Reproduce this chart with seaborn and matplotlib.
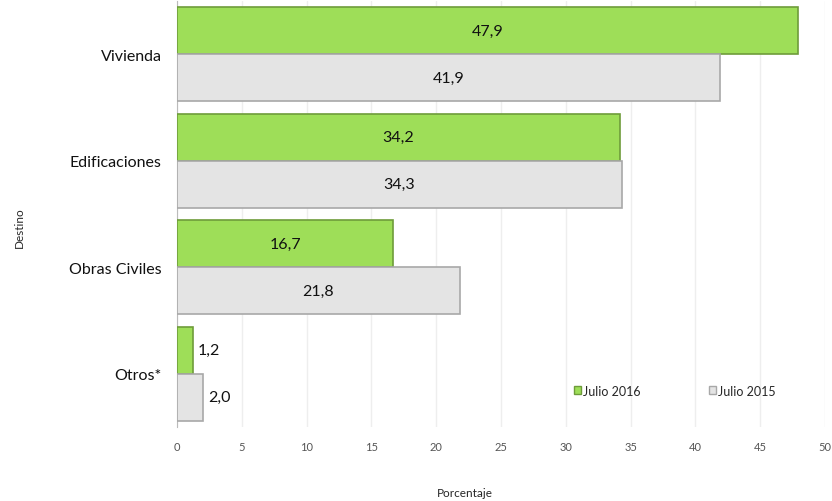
import matplotlib
matplotlib.use('Agg')
import matplotlib.pyplot as plt
import seaborn as sns
import pandas as pd
import numpy as np
from matplotlib.patches import Patch

# Data
destinos = ['Vivienda', 'Edificaciones', 'Obras Civiles', 'Otros*']
julio_2016 = [47.9, 34.2, 16.7, 1.2]
julio_2015 = [41.9, 34.3, 21.8, 2.0]
series = ['Julio 2016', 'Julio 2015']
x_ticks = [0, 5, 10, 15, 20, 25, 30, 35, 40, 45, 50]

df = pd.DataFrame({
    'Destino': destinos * 2,
    'Porcentaje': julio_2016 + julio_2015,
    'Serie': [series[0]] * len(destinos) + [series[1]] * len(destinos),
})

sns.set_style('white')
plt.rcParams['font.family'] = ['Lato', 'DejaVu Sans']

fig = plt.figure(figsize=(8.32, 5.02), dpi=100)
ax = fig.add_axes([0.2127, 0.1474, 0.7789, 0.8486])

palette = {'Julio 2016': '#9ede58', 'Julio 2015': '#e4e4e4'}
edges = {'Julio 2016': '#6e9c3a', 'Julio 2015': '#a8a8a8'}

sns.barplot(data=df, y='Destino', x='Porcentaje', hue='Serie', order=destinos,
            hue_order=series, palette=palette, saturation=1, orient='h', width=0.88,
            ax=ax, zorder=3, legend=False)

for container, name in zip(ax.containers, series):
    for patch in container:
        patch.set_edgecolor(edges[name])
        patch.set_linewidth(1.2)
    labels = [f'{v:.1f}'.replace('.', ',') for v in container.datavalues]
    big = [v > 5 for v in container.datavalues]
    ax.bar_label(container, labels=[l if b else '' for l, b in zip(labels, big)],
                 label_type='center', fontsize=11.5, color='#111111')
    ax.bar_label(container, labels=['' if b else l for l, b in zip(labels, big)],
                 label_type='edge', padding=4, fontsize=11.5, color='#111111')

ax.set_xlim(0, 50)
ax.set_ylim(3.5, -0.5)
ax.set_xticks(x_ticks)
ax.set_xticklabels([str(t) for t in x_ticks], fontsize=8, color='#555555')
ax.tick_params(axis='x', length=0, pad=10)
ax.tick_params(axis='y', which='major', length=0, labelsize=11.5, pad=11, labelcolor='#111111')
ax.set_yticks(np.arange(-0.5, 4, 1), minor=True)
ax.tick_params(axis='y', which='minor', length=4, color='#bbbbbb', direction='out')
ax.grid(axis='x', color='#eeeeee', linewidth=1, zorder=0)
ax.grid(axis='y', visible=False)

for side in ['top', 'right', 'bottom']:
    ax.spines[side].set_visible(False)
ax.spines['left'].set_color('#bbbbbb')

ax.set_xlabel('Porcentaje', fontsize=8.5)
ax.set_ylabel('Destino', fontsize=8.5)
ax.xaxis.set_label_coords(0.445, -0.14)
ax.yaxis.set_label_coords(-0.235, 0.47)

handles = [Patch(facecolor=palette[s], edgecolor=edges[s]) for s in series]
ax.legend(handles, series, ncol=2, frameon=False, fontsize=9,
          loc='center left', bbox_to_anchor=(0.595, 0.085),
          handlelength=0.6, handleheight=0.6, handletextpad=0.1, columnspacing=5.5)

fig.savefig('out.png', dpi=100)
